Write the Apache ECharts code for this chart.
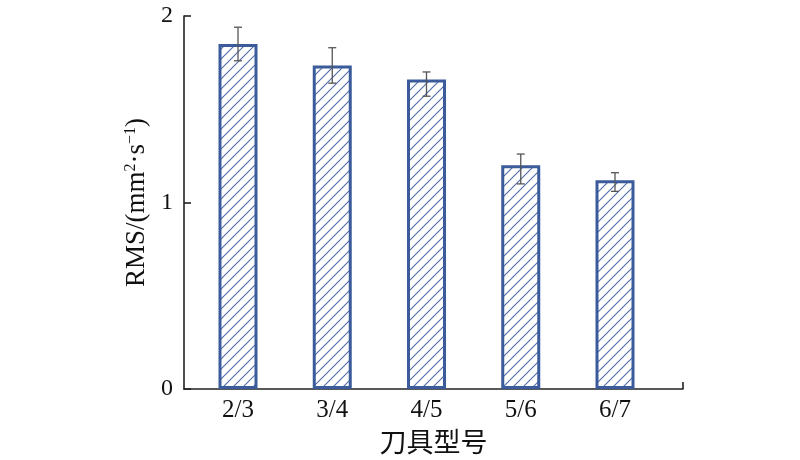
<!DOCTYPE html>
<html>
<head>
<meta charset="utf-8">
<script src="https://cdn.jsdelivr.net/npm/echarts@6/dist/echarts.min.js"></script>
<style>
html,body{margin:0;padding:0;background:#fff;}
#chart{width:800px;height:460px;}
</style>
</head>
<body>
<div id="chart"></div>
<script>
const categories = ['2/3', '3/4', '4/5', '5/6', '6/7'];
const rmsValues = [1.85, 1.735, 1.66, 1.20, 1.12];
const errUpper = [1.94, 1.83, 1.70, 1.26, 1.16];
const errLower = [1.76, 1.64, 1.57, 1.10, 1.06];
const yTickValues = [0, 1, 2];

const xMin = -0.573, xMax = 4.7215;
const serif = '"Liberation Serif", "Times New Roman", "Noto Sans CJK SC", serif';

// hatch pattern
const pc = document.createElement('canvas');
pc.width = 10; pc.height = 10;
const g = pc.getContext('2d');
g.fillStyle = '#ffffff';
g.fillRect(0, 0, 10, 10);
g.strokeStyle = '#4f6ca8';
g.lineWidth = 1.1;
g.beginPath();
g.moveTo(0, 10); g.lineTo(10, 0);
g.moveTo(-2, 2); g.lineTo(2, -2);
g.moveTo(8, 12); g.lineTo(12, 8);
g.stroke();

const barData = rmsValues.map((v, i) => [i, v]);
const errData = categories.map((c, i) => [i, errUpper[i], errLower[i]]);

const chart = echarts.init(document.getElementById('chart'), null, {renderer: 'canvas'});
chart.setOption({
  animation: false,
  backgroundColor: '#ffffff',
  grid: {left: 184, right: 117, top: 16, bottom: 68},
  xAxis: {
    type: 'value',
    min: xMin,
    max: xMax,
    name: '刀具型号',
    nameLocation: 'middle',
    nameGap: 37,
    nameTextStyle: {fontSize: 27, color: '#111', fontFamily: '"Noto Sans CJK SC", serif'},
    axisLine: {show: true, onZero: false, lineStyle: {color: '#222', width: 1.6}},
    axisTick: {show: true, inside: true, length: 7, lineStyle: {color: '#222', width: 1.6}, customValues: [xMax]},
    axisLabel: {
      show: true,
      customValues: [0, 1, 2, 3, 4],
      formatter: v => categories[Math.round(v)],
      fontSize: 25, color: '#111', fontFamily: serif, margin: 9
    },
    splitLine: {show: false}
  },
  yAxis: {
    type: 'value',
    min: 0, max: 2, interval: 1,
    name: 'RMS/(mm{sup|2}·s{sup|−1})',
    nameLocation: 'middle',
    nameRotate: 90,
    nameGap: 31,
    nameTextStyle: {
      fontSize: 27, color: '#111', fontFamily: serif,
      rich: {sup: {fontSize: 16, color: '#111', fontFamily: serif, verticalAlign: 'top', padding: [0, 0, 12, 0]}}
    },
    axisLine: {show: true, onZero: false, lineStyle: {color: '#222', width: 1.6}},
    axisTick: {show: true, inside: true, length: 7, lineStyle: {color: '#222', width: 1.6}},
    axisLabel: {
      fontSize: 24, color: '#111', fontFamily: serif, margin: 11,
      formatter: v => yTickValues.includes(v) ? String(v) : ''
    },
    splitLine: {show: false}
  },
  series: [
    {
      type: 'bar',
      data: barData,
      barWidth: 39,
      itemStyle: {
        color: {image: pc, repeat: 'repeat'},
        borderColor: '#3b5b9a',
        borderWidth: 3
      },
      z: 2
    },
    {
      type: 'custom',
      data: errData,
      z: 5,
      renderItem: function (params, api) {
        const x = api.value(0);
        const pHi = api.coord([x, api.value(1)]);
        const pLo = api.coord([x, api.value(2)]);
        const cap = 4;
        const st = {stroke: '#555555', lineWidth: 1.3};
        return {
          type: 'group',
          children: [
            {type: 'line', shape: {x1: pHi[0], y1: pHi[1], x2: pLo[0], y2: pLo[1]}, style: st},
            {type: 'line', shape: {x1: pHi[0] - cap, y1: pHi[1], x2: pHi[0] + cap, y2: pHi[1]}, style: st},
            {type: 'line', shape: {x1: pLo[0] - cap, y1: pLo[1], x2: pLo[0] + cap, y2: pLo[1]}, style: st}
          ]
        };
      }
    }
  ]
});
</script>
</body>
</html>
